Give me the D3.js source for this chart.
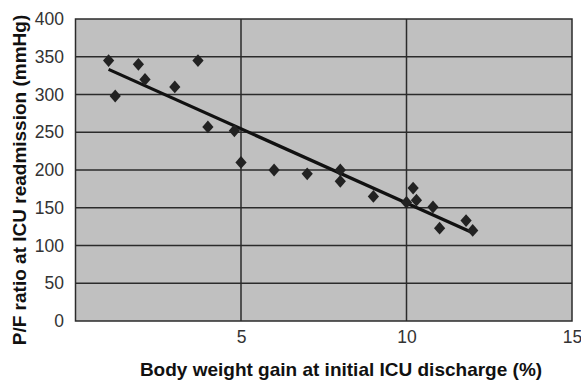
<!DOCTYPE html>
<html>
<head>
  <meta charset="utf-8">
  <script src="https://cdn.jsdelivr.net/npm/d3@7"></script>
  <style>
    body { margin: 0; background: #fff; }
    svg { display: block; font-family: Arial, "Liberation Sans", sans-serif; }
  </style>
</head>
<body>
  <script>
    const width = 581;
    const height = 385;

    // body weight gain (%) and P/F ratio (mmHg)
    const weightGain = [1.0, 1.2, 1.9, 2.1, 3.0, 3.7, 4.0, 4.8, 5.0, 6.0, 7.0, 8.0, 8.0, 9.0, 10.0, 10.2, 10.3, 10.8, 11.0, 11.8, 12.0];
    const pfRatio = [345, 298, 340, 320, 310, 345, 257, 252, 210, 200, 195, 200, 185, 165, 157, 176, 160, 151, 123, 133, 120];
    const xTicks = [5, 10, 15];
    const yTicks = [0, 50, 100, 150, 200, 250, 300, 350, 400];

    const margin = { top: 19, right: 9, bottom: 64, left: 75.5 };

    const svg = d3.select('body').append('svg')
      .attr('width', width)
      .attr('height', height);

    const x = d3.scaleLinear().domain([0, 15]).range([margin.left, width - margin.right]);
    const y = d3.scaleLinear().domain([0, 400]).range([height - margin.bottom, margin.top]);

    // plot background
    svg.append('rect')
      .attr('x', x(0)).attr('y', y(400))
      .attr('width', x(15) - x(0)).attr('height', y(0) - y(400))
      .attr('fill', '#c0c0c0');

    // grid
    svg.append('g').selectAll('line').data(yTicks.filter(d => d > 0 && d < 400)).join('line')
      .attr('x1', x(0)).attr('x2', x(15))
      .attr('y1', d => y(d)).attr('y2', d => y(d))
      .attr('stroke', '#2b2b2b').attr('stroke-width', 1.5);
    svg.append('g').selectAll('line').data(xTicks.filter(d => d < 15)).join('line')
      .attr('x1', d => x(d)).attr('x2', d => x(d))
      .attr('y1', y(0)).attr('y2', y(400))
      .attr('stroke', '#2b2b2b').attr('stroke-width', 1.5);

    // frame
    svg.append('rect')
      .attr('x', x(0)).attr('y', y(400))
      .attr('width', x(15) - x(0)).attr('height', y(0) - y(400))
      .attr('fill', 'none').attr('stroke', '#2b2b2b').attr('stroke-width', 1.5);

    // axes (labels only)
    const yAxis = svg.append('g')
      .attr('transform', `translate(${x(0)},0)`)
      .call(d3.axisLeft(y).tickValues(yTicks).tickSize(0).tickPadding(11.5));
    const xAxis = svg.append('g')
      .attr('transform', `translate(0,${y(0)})`)
      .call(d3.axisBottom(x).tickValues(xTicks).tickSize(0).tickPadding(10));
    [xAxis, yAxis].forEach(a => {
      a.select('.domain').remove();
      a.selectAll('text')
        .attr('font-size', 17.5)
        .attr('font-family', 'Arial, "Liberation Sans", sans-serif')
        .attr('fill', '#333');
    });

    // trend line (least squares)
    const n = weightGain.length;
    const mx = d3.mean(weightGain), my = d3.mean(pfRatio);
    let sxy = 0, sxx = 0;
    for (let i = 0; i < n; i++) {
      sxy += (weightGain[i] - mx) * (pfRatio[i] - my);
      sxx += (weightGain[i] - mx) ** 2;
    }
    const slope = sxy / sxx;
    const icpt = my - slope * mx;
    const [x0, x1] = d3.extent(weightGain);
    svg.append('line')
      .attr('x1', x(x0)).attr('y1', y(icpt + slope * x0))
      .attr('x2', x(x1)).attr('y2', y(icpt + slope * x1))
      .attr('stroke', '#111').attr('stroke-width', 3.2);

    // points
    const diamond = d3.symbol().type(d3.symbolSquare).size(70);
    svg.append('g').selectAll('path').data(weightGain).join('path')
      .attr('d', diamond)
      .attr('transform', (d, i) => `translate(${x(d)},${y(pfRatio[i])}) scale(0.95,1.08) rotate(45)`)
      .attr('fill', '#222');

    // axis titles
    svg.append('text')
      .attr('x', 341).attr('y', 376)
      .attr('text-anchor', 'middle')
      .attr('font-size', 19).attr('font-weight', 'bold').attr('fill', '#111')
      .text('Body weight gain at initial ICU discharge (%)');
    svg.append('text')
      .attr('transform', 'translate(26,180) rotate(-90)')
      .attr('text-anchor', 'middle')
      .attr('font-size', 19).attr('font-weight', 'bold').attr('fill', '#111')
      .text('P/F ratio at ICU readmission (mmHg)');
  </script>
</body>
</html>
